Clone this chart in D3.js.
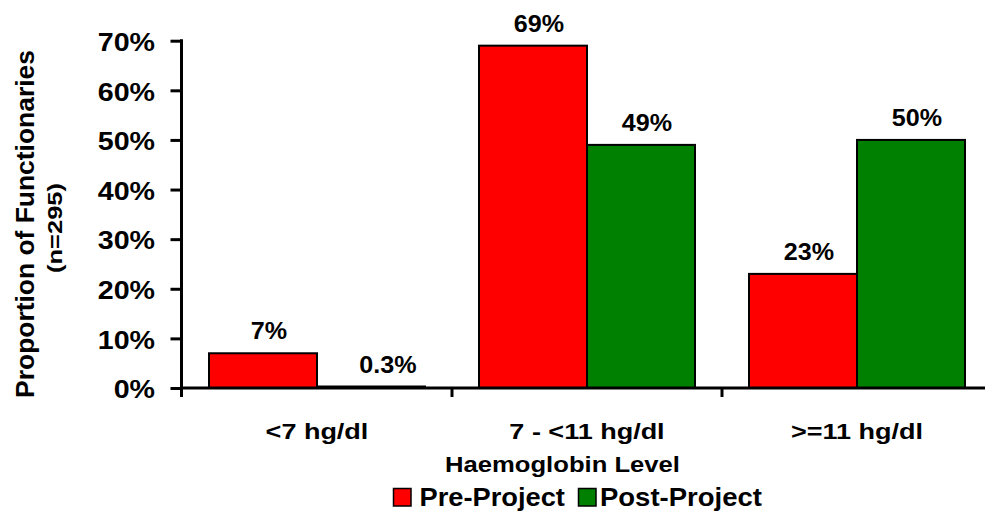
<!DOCTYPE html>
<html>
<head>
<meta charset="utf-8">
<script src="https://cdn.jsdelivr.net/npm/d3@7"></script>
<style>
  html, body { margin: 0; padding: 0; background: #fff; }
  svg { display: block; }
  text { font-family: "Liberation Sans", Arial, Helvetica, sans-serif; font-weight: bold; fill: #000; }
</style>
</head>
<body>
<svg id="chart" width="985" height="515"></svg>
<script>
const categories = ["<7 hg/dl", "7 - <11 hg/dl", ">=11 hg/dl"];
const seriesNames = ["Pre-Project", "Post-Project"];
const preProject = [7, 69, 23];
const postProject = [0.3, 49, 50];
const valueLabels = [["7%", "69%", "23%"], ["0.3%", "49%", "50%"]];
const yTicks = [0, 10, 20, 30, 40, 50, 60, 70];
const yTickLabels = ["0%", "10%", "20%", "30%", "40%", "50%", "60%", "70%"];
const colors = ["#FF0000", "#008000"];
const xTitle = "Haemoglobin Level";
const yTitle = "Proportion of Functionaries";
const ySubTitle = "(n=295)";

const svg = d3.select("#chart");
const y = d3.scaleLinear().domain([0, 70]).range([388, 40.7]);
const x0 = d3.scaleBand().domain(categories).range([182, 992]).paddingInner(0).paddingOuter(0);
const x1 = d3.scaleBand().domain(seriesNames).range([27, x0.bandwidth() - 27]).padding(0);

const series = [preProject, postProject];

function fitText(t, ax, targetW) {
  const w = t.node().getComputedTextLength();
  const s = targetW / w;
  t.attr("transform", `translate(${ax},0) scale(${s},1) translate(${-ax},0)`);
}
function stretchText(t, ax, sx) {
  t.attr("transform", `translate(${ax},0) scale(${sx},1) translate(${-ax},0)`);
}

// Bars
seriesNames.forEach((s, si) => {
  svg.append("g").selectAll("rect")
    .data(categories.map((c, i) => ({ c, v: series[si][i], i })))
    .join("rect")
    .attr("x", d => x0(d.c) + x1(s))
    .attr("y", d => y(d.v))
    .attr("width", x1.bandwidth())
    .attr("height", d => y(0) - y(d.v))
    .attr("fill", colors[si])
    .attr("stroke", "#000")
    .attr("stroke-width", 2);
});

// Value labels
seriesNames.forEach((s, si) => {
  categories.forEach((c, i) => {
    const v = series[si][i];
    const cx = x0(c) + x1(s) + x1.bandwidth() / 2 + (v < 1 ? 17 : 6);
    const t = svg.append("text")
      .attr("x", cx)
      .attr("y", y(v) - 14)
      .attr("text-anchor", "middle")
      .attr("font-size", 23.5)
      .text(valueLabels[si][i]);
    stretchText(t, cx, 1.07);
  });
});

// Y axis
const TSX = 1.08;
const yAxis = d3.axisLeft(y)
  .tickValues(yTicks)
  .tickFormat((d, i) => yTickLabels[i])
  .tickSize(11)
  .tickSizeOuter(0);
const gy = svg.append("g").attr("transform", "translate(181.5,0)").call(yAxis);
gy.attr("font-family", null).attr("font-size", null);
gy.select(".domain").remove();
gy.selectAll(".tick line").attr("stroke", "#000").attr("stroke-width", 3);
gy.selectAll(".tick text")
  .attr("x", -26.5 / TSX)
  .attr("dy", "0.37em")
  .attr("font-size", 26.5)
  .attr("fill", "#000")
  .attr("transform", `scale(${TSX},1)`);
svg.append("line")
  .attr("x1", 181.5).attr("x2", 181.5)
  .attr("y1", y(70) - 1.5).attr("y2", 397)
  .attr("stroke", "#000").attr("stroke-width", 3);

// X axis line
svg.append("line")
  .attr("x1", 181.5).attr("x2", 985)
  .attr("y1", y(0)).attr("y2", y(0))
  .attr("stroke", "#000").attr("stroke-width", 3);
// X ticks at band boundaries
svg.append("g").selectAll("line")
  .data(categories.slice(1))
  .join("line")
  .attr("x1", d => x0(d)).attr("x2", d => x0(d))
  .attr("y1", y(0)).attr("y2", 397)
  .attr("stroke", "#000").attr("stroke-width", 3);

// Category labels
categories.forEach(c => {
  const cx = x0(c) + x0.bandwidth() / 2;
  const t = svg.append("text")
    .attr("x", cx).attr("y", 439)
    .attr("text-anchor", "middle")
    .attr("font-size", 22.5)
    .text(c);
  stretchText(t, cx, 1.2);
});

// X title
{
  const cx = 562.5;
  const t = svg.append("text")
    .attr("x", cx).attr("y", 472)
    .attr("text-anchor", "middle")
    .attr("font-size", 22)
    .text(xTitle);
  fitText(t, cx, 235);
}

// Y title (rotated)
function rotatedText(str, bx, cy, fs, targetLen) {
  const g = svg.append("g").attr("transform", `translate(${bx},${cy}) rotate(-90)`);
  const t = g.append("text").attr("x", 0).attr("y", 0)
    .attr("text-anchor", "middle").attr("font-size", fs).text(str);
  const len = t.node().getComputedTextLength();
  t.attr("transform", `scale(${targetLen / len},1)`);
}
rotatedText(yTitle, 33.5, 224, 26.5, 348);
rotatedText(ySubTitle, 61.5, 228, 19.5, 90);

// Legend
const legendItems = [
  { name: seriesNames[0], color: colors[0], sx: 393.5, tx: 419.5, w: 145.5 },
  { name: seriesNames[1], color: colors[1], sx: 578.5, tx: 600, w: 162 }
];
legendItems.forEach(it => {
  svg.append("rect")
    .attr("x", it.sx).attr("y", 488.5)
    .attr("width", 17.5).attr("height", 17.5)
    .attr("fill", it.color)
    .attr("stroke", "#000").attr("stroke-width", 1.5);
  const t = svg.append("text")
    .attr("x", it.tx).attr("y", 506)
    .attr("text-anchor", "start")
    .attr("font-size", 25)
    .text(it.name);
  fitText(t, it.tx, it.w);
});
</script>
</body>
</html>
